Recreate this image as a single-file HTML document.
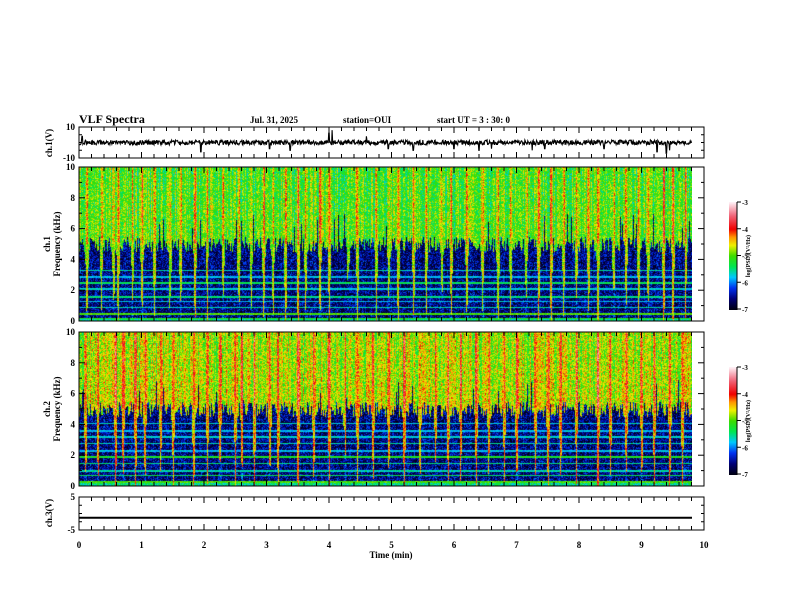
<!DOCTYPE html>
<html><head><meta charset="utf-8">
<style>
html,body{margin:0;padding:0;background:#fff;}
#wrap{position:relative;width:792px;height:612px;overflow:hidden;font-family:"Liberation Serif",serif;}
canvas{position:absolute;}
svg{position:absolute;left:0;top:0;}
</style></head>
<body>
<div id="wrap">
<canvas id="spec1" width="613" height="154" style="left:79px;top:167px"></canvas>
<canvas id="spec2" width="613" height="154" style="left:79px;top:332px"></canvas>
<canvas id="cb1" width="8" height="108" style="left:729px;top:202px"></canvas>
<canvas id="cb2" width="8" height="108" style="left:729px;top:367px"></canvas>
<svg id="ov" width="792" height="612"></svg>
</div>
<script>
// ---- data ----
const sfericTimes1 = [0.12,0.35,0.55,0.62,0.85,1.0,1.2,1.45,1.62,1.85,2.05,2.3,2.55,2.75,2.95,3.1,3.3,3.5,3.62,3.85,4.0,4.3,4.45,4.75,4.95,5.1,5.35,5.55,5.8,5.95,6.2,6.45,6.7,6.9,7.15,7.35,7.55,7.75,7.95,8.15,8.3,8.55,8.75,8.95,9.1,9.35,9.5,9.7];
const sfericStrength1 = [1.2,0.9,1.0,1.3,0.8,1.1,1.0,1.2,0.9,1.3,1.0,0.8,1.1,0.9,1.2,1.0,1.3,1.4,0.9,1.0,1.2,0.8,1.1,1.0,0.9,1.2,1.0,1.1,0.8,1.0,1.1,0.9,1.2,1.0,0.8,1.1,1.3,1.0,0.9,1.1,1.4,1.0,0.9,1.2,1.0,1.3,1.4,1.0];
const sfericTimes2 = [0.1,0.3,0.58,0.7,0.9,1.05,1.3,1.5,1.83,2.05,2.25,2.5,2.6,2.8,3.05,3.18,3.5,3.75,4.0,4.25,4.45,4.7,4.95,5.2,5.45,5.7,5.9,6.1,6.35,6.55,6.8,7.0,7.3,7.5,7.7,7.95,8.3,8.5,8.75,9.0,9.2,9.45,9.65];
const sfericStrength2 = [1.0,1.1,1.3,0.9,1.2,1.0,0.9,1.1,1.4,1.0,0.9,1.2,1.0,1.1,0.9,1.3,1.4,1.0,1.2,0.9,1.0,1.1,0.9,1.2,1.0,0.8,1.1,1.0,1.2,0.9,1.0,1.1,0.9,1.3,1.0,1.1,1.4,1.0,0.9,1.1,1.0,1.4,1.0];
const bandFreqs1 = [0.2,0.5,0.9,1.3,1.6,2.1,2.5,2.9,3.3];
const bandLevels1 = [-5.2,-5.0,-5.6,-5.8,-5.5,-5.7,-5.4,-5.8,-5.6];
const bandFreqs2 = [0.3,0.7,1.0,1.5,1.9,2.3,2.8,3.2,3.6,4.1];
const bandLevels2 = [-5.0,-5.4,-5.6,-5.5,-5.2,-5.8,-5.6,-5.7,-5.8,-5.7];
const cutoff1 = 5.0, cutoff2 = 5.0;
const hiLevel1 = -5.0, hiLevel2 = -4.7, loLevel = -6.6;
const ch1Spikes = [0.05,1.95,3.05,3.38,4.0,4.05,4.6,4.95,5.35,6.0,6.4,6.6,7.25,7.45,8.4,9.25,9.4,9.45];
const ch1SpikeAmp = [4,-6,-4,-5,6,8,4,-4,-5,-4,-5,-4,-5,-4,-4,-6,-7,-5];
const ch3Value = [-1.3];
const xTicks = [0,1,2,3,4,5,6,7,8,9,10];
const freqTicks = [0,2,4,6,8,10];
const cbTicks = [-3,-4,-5,-6,-7];

// ---- helpers ----
const X0=79,X1=704;
const xs = t => X0 + (t/10)*(X1-X0);
function hash(a,b){let h=(a*374761393+b*668265263)|0;h=(h^(h>>>13))*1274126177|0;return ((h^(h>>>16))>>>0)/4294967295;}
const stops=[[-7,[0,0,20]],[-6.6,[0,0,120]],[-6.2,[0,50,240]],[-5.8,[0,200,255]],[-5.4,[0,230,80]],[-5.0,[60,220,0]],[-4.6,[240,240,0]],[-4.3,[255,150,0]],[-4.0,[240,0,0]],[-3.5,[240,100,120]],[-3,[255,240,245]]];
function cmap(v){if(v<=-7)return stops[0][1];if(v>=-3)return stops[stops.length-1][1];
 for(let i=0;i<stops.length-1;i++){const a=stops[i],b=stops[i+1];if(v>=a[0]&&v<=b[0]){const f=(v-a[0])/(b[0]-a[0]);return a[1].map((c,k)=>Math.round(c+(b[1][k]-c)*f));}}}
function drawSpec(id,times,str,bf,bl,cut,hi,seed){
 const c=document.getElementById(id),ctx=c.getContext('2d'),W=c.width,H=c.height;
 const img=ctx.createImageData(W,H);
 const colBoost=[],colCut=[];
 for(let x=0;x<W;x++){const t=x/W*9.81;let b=0;
  for(let i=0;i<times.length;i++){const d=Math.abs(t-times[i]);if(d<0.03)b=Math.max(b,str[i]*(1-d/0.03));}
  const r=hash(x,seed);
  colBoost.push(b*1.1+(r-0.5)*0.9);
  colCut.push(cut+(hash(x,seed+7)-0.5)*1.0 + (r<0.04?1.5:0) - b*5);}
 for(let y=0;y<H;y++){const f=10*(1-y/H);
  for(let x=0;x<W;x++){
   const up=f>colCut[x];
   let base=up ? hi-(f-cut)*0.02 : loLevel;
   let lowB=f>cut?0.8:0.35;
   let v=base+(hash(x*131+y,seed)-0.5)*(up?0.9:1.0)+colBoost[x]*(up?lowB:0.3);
   for(let i=0;i<bf.length;i++){if(Math.abs(f-bf[i])<0.05)v=Math.max(v,bl[i]+(hash(x,y)-0.5)*0.4);}
   if(f<0.25)v=Math.max(v,-5.5+(hash(x,y+3)-0.5)*0.8);
   const col=cmap(v),p=(y*W+x)*4;img.data[p]=col[0];img.data[p+1]=col[1];img.data[p+2]=col[2];img.data[p+3]=255;}}
 ctx.putImageData(img,0,0);
}
drawSpec('spec1',sfericTimes1,sfericStrength1,bandFreqs1,bandLevels1,cutoff1,hiLevel1,11);
drawSpec('spec2',sfericTimes2,sfericStrength2,bandFreqs2,bandLevels2,cutoff2,hiLevel2,29);
['cb1','cb2'].forEach(id=>{const c=document.getElementById(id),ctx=c.getContext('2d');
 for(let y=0;y<c.height;y++){const v=-3-4*y/(c.height-1);const col=cmap(v);ctx.fillStyle=`rgb(${col})`;ctx.fillRect(0,y,c.width,1);}});

// ---- SVG overlay ----
const NS='http://www.w3.org/2000/svg',ov=document.getElementById('ov');
function el(tag,attrs,parent){const e=document.createElementNS(NS,tag);for(const k in attrs)e.setAttribute(k,attrs[k]);(parent||ov).appendChild(e);return e;}
function txt(s,x,y,size,anchor,name,rot){const e=el('text',{x:x,y:y,'font-size':size,'font-weight':'bold','text-anchor':anchor||'start','font-family':'Liberation Serif, serif'});
 if(rot)e.setAttribute('transform',`rotate(-90 ${x} ${y})`);e.textContent=s;
 
 
 return e;}
function panel(top,bot,name,yticks,ymin,ymax,yminor){
 const g=el('g',{});
 
 
 el('rect',{x:X0,y:top,width:X1-X0,height:bot-top,fill:'none',stroke:'#000','stroke-width':1},g);
 for(let t=0;t<=10.001;t+=0.2){const x=xs(t),maj=Math.abs(t-Math.round(t))<0.01;
  const L=maj?6:4;
  el('line',{x1:x,y1:top,x2:x,y2:top+L,stroke:'#000'},g);el('line',{x1:x,y1:bot,x2:x,y2:bot-L,stroke:'#000'},g);}
 const ys=v=>bot-(v-ymin)/(ymax-ymin)*(bot-top);
 for(let v=ymin;v<=ymax+1e-6;v+=yminor){const y=ys(v);const maj=yticks.some(q=>Math.abs(q-v)<1e-6);const L=maj?6:3;
  el('line',{x1:X0,y1:y,x2:X0+L,y2:y,stroke:'#000'},g);el('line',{x1:X1,y1:y,x2:X1-L,y2:y,stroke:'#000'},g);}
 yticks.forEach(v=>txt(String(v),X0-4,ys(v)+3,9,'end','y-tick-label',false));
 return ys;
}
// header
txt('VLF Spectra',79,123,12,'start','chart-title');
txt('Jul. 31, 2025',250,123,9,'start','date-label');
txt('station=OUI',343,123,9,'start','station-label');
txt('start  UT =  3 : 30: 0',437,123,9,'start','start-time-label');
// ch1
const ys1=panel(127,158,'ch1-waveform-panel',[10,-10],-10,10,5);
let d='';const N=1250;
for(let i=0;i<N;i++){const t=i/N*9.81;let v=(hash(i,5)-0.5)*3.2;
 for(let k=0;k<ch1Spikes.length;k++){if(Math.abs(t-ch1Spikes[k])<0.006)v=ch1SpikeAmp[k];}
 d+=(i?'L':'M')+xs(t).toFixed(1)+','+ys1(v).toFixed(1);}
const w=el('path',{d:d,fill:'none',stroke:'#000','stroke-width':1.1});


txt('ch.1(V)',52,143,9,'middle','ch1-y-axis-title',true);
// spectrograms
panel(167,321,'spectrogram-ch1-axes',freqTicks,0,10,1);
panel(332,486,'spectrogram-ch2-axes',freqTicks,0,10,1);
txt('ch.1',50,244,9,'middle','spec1-y-axis-title-ch',true);
txt('Frequency  (kHz)',60,244,9,'middle','spec1-y-axis-title',true);
txt('ch.2',50,409,9,'middle','spec2-y-axis-title-ch',true);
txt('Frequency  (kHz)',60,409,9,'middle','spec2-y-axis-title',true);
// colorbar axes
[[202,'colorbar-ch1-axis'],[367,'colorbar-ch2-axis']].forEach(([t,n])=>{
 const g=el('g',{});
 el('line',{x1:737,y1:t,x2:737,y2:t+108,stroke:'#000'},g);
 cbTicks.forEach(v=>{const y=t+(-3-v)/4*107;el('line',{x1:737,y1:y,x2:741,y2:y,stroke:'#000'},g);txt(String(v),742,y+3,7,'start','colorbar-tick-label');});
 txt('log(PSD)(V²/Hz)',750,t+54,6,'middle','colorbar-title',true);
});
// ch3
const ys3=panel(497,530,'ch3-waveform-panel',[5,-5],-5,5,2.5);
const l3=el('line',{x1:X0,y1:ys3(ch3Value[0]),x2:692,y2:ys3(ch3Value[0]),stroke:'#000','stroke-width':2});


txt('ch.3(V)',52,513,9,'middle','ch3-y-axis-title',true);
xTicks.forEach(t=>txt(String(t),xs(t),548,9,'middle','x-tick-label'));
txt('Time  (min)',391,558,9,'middle','x-axis-title');
</script>
</body></html>
